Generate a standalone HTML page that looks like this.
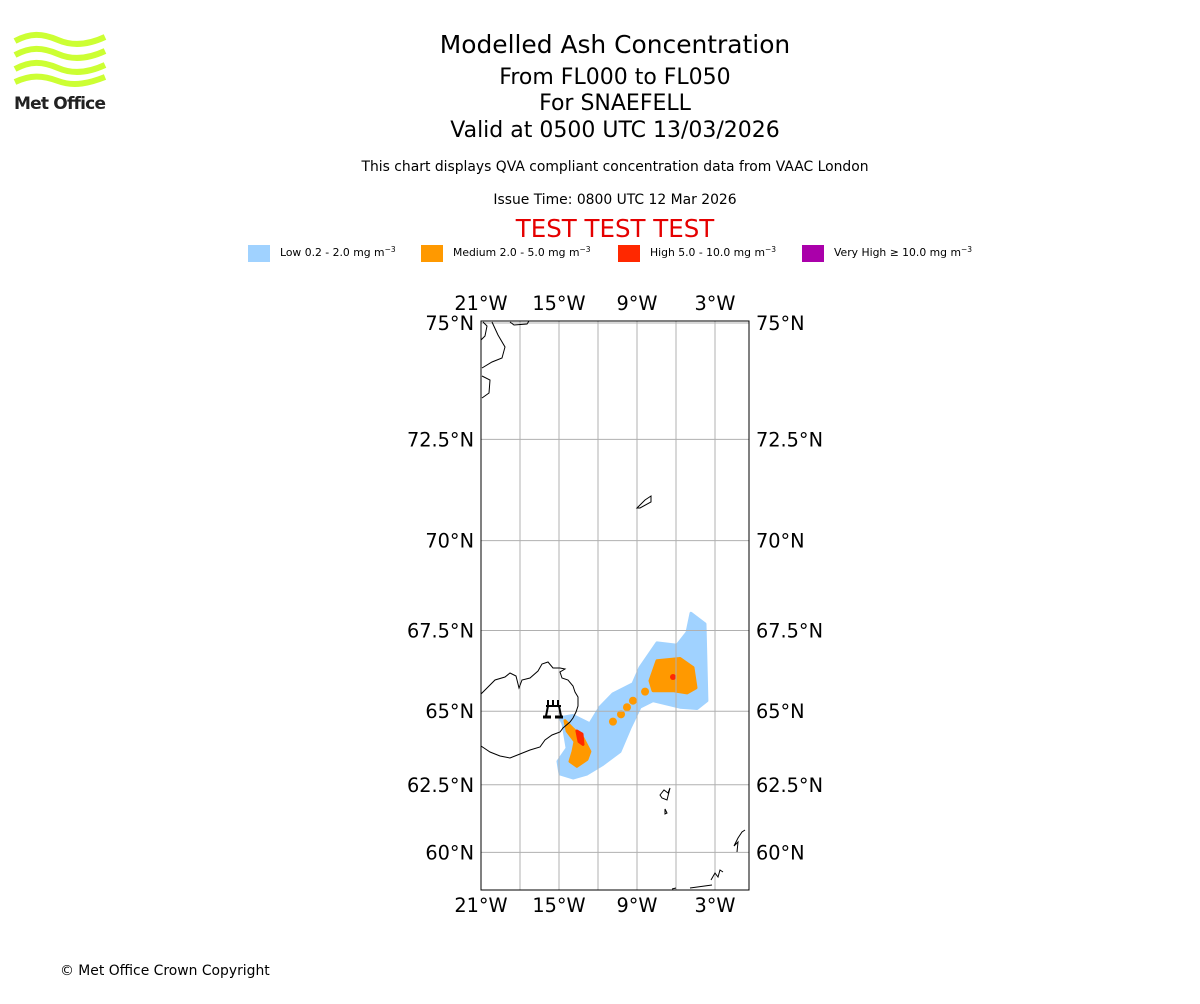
<!DOCTYPE html>
<html><head><meta charset="utf-8"><style>
body{margin:0;background:#fff;width:1200px;height:1000px;overflow:hidden;font-family:"DejaVu Sans","Liberation Sans",sans-serif}
</style></head><body>
<svg id="chart" width="1200" height="1000" xmlns="http://www.w3.org/2000/svg" style="font-family:'DejaVu Sans','Liberation Sans',sans-serif">
<g>
<g fill="none" stroke="#ccff33" stroke-width="6" stroke-linecap="butt">
<path d="M15 41 C30 33 42 33 58 40 S90 44 105 37"/>
<path d="M15 55 C30 47 42 47 58 54 S90 58 105 51"/>
<path d="M15 69 C30 61 42 61 58 68 S90 72 105 65"/>
<path d="M15 82 C30 75 42 75 58 81 S90 83 105 77"/>
</g>
<text x="14" y="109" font-size="17" font-weight="bold" fill="#222" letter-spacing="-0.8">Met Office</text>
</g>
<g text-anchor="middle" fill="#000">
<text x="615" y="53" font-size="24.9">Modelled Ash Concentration</text>
<text x="615" y="84" font-size="22">From FL000 to FL050</text>
<text x="615" y="110" font-size="22">For SNAEFELL</text>
<text x="615" y="137" font-size="22">Valid at 0500 UTC 13/03/2026</text>
<text x="615" y="171" font-size="13.9">This chart displays QVA compliant concentration data from VAAC London</text>
<text x="615" y="204" font-size="13.9">Issue Time: 0800 UTC 12 Mar 2026</text>
<text x="615" y="237" font-size="24.5" fill="#e50000">TEST TEST TEST</text>
</g>
<g font-size="10.8">
<rect x="248" y="245" width="22" height="17" fill="#a0d2ff"/>
<text x="280" y="256">Low 0.2 - 2.0 mg m<tspan dy="-4" font-size="7.5">−3</tspan></text>
<rect x="421" y="245" width="22" height="17" fill="#ff9900"/>
<text x="453" y="256">Medium 2.0 - 5.0 mg m<tspan dy="-4" font-size="7.5">−3</tspan></text>
<rect x="618" y="245" width="22" height="17" fill="#ff2800"/>
<text x="650" y="256">High 5.0 - 10.0 mg m<tspan dy="-4" font-size="7.5">−3</tspan></text>
<rect x="802" y="245" width="22" height="17" fill="#aa00aa"/>
<text x="834" y="256">Very High  ≥  10.0 mg m<tspan dy="-4" font-size="7.5">−3</tspan></text>
</g>
<defs><clipPath id="mapclip"><rect x="481" y="321" width="268" height="569"/></clipPath></defs>
<g id="plume" clip-path="url(#mapclip)"></g>
<g id="grid"></g>
<g clip-path="url(#mapclip)" fill="none" stroke="#000" stroke-width="1">
<path d="M481 694 L483 692 490 685 495 680 505 677 510 673 516 676 519 688 522 680 530 678 538 671 542 664 548 662 553 668 560 668 565 669 560 672 562 678 568 680 573 686 575 692 578 697 578 706 576 712 573 718 570 722 563 728 560 732 552 735 545 740 540 747 530 750 520 754 510 758 500 756 490 752 484 748 481 746"/>
<path d="M481 340 L485 336 487 326 483 322 M492 322 L498 335 505 347 502 358 492 362 482 368 M482 376 L490 380 489 393 482 398 M510 322 L514 325 527 324 529 321"/>
<path d="M637 508 L645 500 651 496 651 502 640 508Z"/>
<path d="M660 795 L664 790 668 793 670 788 667 800 662 798Z M665 809 L667 813 665 814Z"/>
<path d="M737 852 L738 842 734 846 738 838 742 832 745 830 M711 880 L715 873 718 877 720 870 723 872 M690 888 L712 885 M672 889 L676 888"/>
</g>
<g stroke="#000" stroke-width="2" fill="none">
<path d="M548 700 V706 M553 700 V706 M558 700 V706 M546 706 H561 M548 706 L546 716 M559 706 L561 716"/>
<path d="M543 717 H551 M555 717 H563" stroke-width="3"/>
</g>
<rect x="481" y="321" width="268" height="569" fill="none" stroke="#000" stroke-width="1"/>
<g id="labels" font-size="19.3" fill="#000"></g>
<text x="60" y="975" font-size="13.9">© Met Office Crown Copyright</text>
</svg>
<script>
const lonTicks = [-21, -15, -9, -3];
const lonGrid = [-21, -18, -15, -12, -9, -6, -3];
const latTicks = [75, 72.5, 70, 67.5, 65, 62.5, 60];
const latTickLabels = ["75°N", "72.5°N", "70°N", "67.5°N", "65°N", "62.5°N", "60°N"];
const lonTickLabels = ["21°W", "15°W", "9°W", "3°W"];
const lowLon = [-4.85,-3.77,-3.62,-4.38,-5.69,-7.77,-8.77,-9.54,-10.31,-11.62,-12.85,-13.92,-14.92,-15.08,-14.38,-14.69,-14.92,-13.92,-12.62,-11.85,-10.85,-9.31,-8.77,-7.46,-5.92,-5.15];
const lowLat = [68.0,67.69,65.34,65.09,65.13,65.34,65.13,64.45,63.66,63.22,62.88,62.74,62.88,63.32,63.77,64.59,64.79,64.86,64.59,65.13,65.56,65.88,66.38,67.13,67.06,67.44];
const medNorthLon = [-7.46,-5.69,-4.69,-4.46,-5.15,-6.23,-7.77,-8.0];
const medNorthLat = [66.59,66.66,66.38,65.75,65.59,65.66,65.66,65.97];
const medSouthLon = [-14.54,-13.92,-13.15,-12.62,-12.85,-13.62,-14.15,-13.92,-13.77,-14.38];
const medSouthLat = [64.69,64.42,64.11,63.66,63.39,63.15,63.32,63.66,64.0,64.35];
const highSouthLon = [-13.62,-13.23,-13.15,-13.46];
const highSouthLat = [64.35,64.25,63.9,64.0];
const highNorthLon = [-6.23];
const highNorthLat = [66.09];
const medBlobLon = [-10.85,-10.23,-9.77,-9.31,-8.38];
const medBlobLat = [64.66,64.9,65.13,65.34,65.63];

const NS = "http://www.w3.org/2000/svg";
function merc(lat){return Math.log(Math.tan(Math.PI/4 + lat*Math.PI/360));}
function xOf(lon){return 481 + (lon + 21) * 13;}
function yOf(lat){return 323 + (merc(75) - merc(lat)) * 745;}
function mk(tag, attrs, parent){const e=document.createElementNS(NS,tag);for(const k in attrs)e.setAttribute(k,attrs[k]);parent.appendChild(e);return e;}
const plume=document.getElementById('plume');
function poly(lons,lats,fill,name){
  const pts=lons.map((l,i)=>xOf(l).toFixed(1)+','+yOf(lats[i]).toFixed(1)).join(' ');
  const p=mk('polygon',{points:pts,fill:fill,stroke:fill,'stroke-width':3,'stroke-linejoin':'round'},plume);
  
  
}
poly(lowLon,lowLat,'#a0d2ff','low-ash-area');
poly(medNorthLon,medNorthLat,'#ff9900','medium-ash-north');
poly(medSouthLon,medSouthLat,'#ff9900','medium-ash-south');
medBlobLon.forEach((l,i)=>{
  const c=mk('circle',{cx:xOf(l),cy:yOf(medBlobLat[i]),r:4,fill:'#ff9900'},plume);
  
  
});
poly(highSouthLon,highSouthLat,'#ff2800','high-ash-south');
highNorthLon.forEach((l,i)=>{
  const c=mk('circle',{cx:xOf(l),cy:yOf(highNorthLat[i]),r:3,fill:'#ff2800'},plume);
  
  
});
const grid=document.getElementById('grid');
lonGrid.forEach(l=>{
  const g=mk('line',{x1:xOf(l),x2:xOf(l),y1:321,y2:890,stroke:'#b0b0b0','stroke-width':1},grid);
  
  
});
latTicks.forEach(l=>{
  const g=mk('line',{x1:481,x2:749,y1:yOf(l),y2:yOf(l),stroke:'#b0b0b0','stroke-width':1},grid);
  
  
});
const labels=document.getElementById('labels');
latTicks.forEach((l,i)=>{
  const y=yOf(l)+7;
  const a=mk('text',{x:474,y:y,'text-anchor':'end'},labels);a.textContent=latTickLabels[i];
  
  
  const b=mk('text',{x:756,y:y,'text-anchor':'start'},labels);b.textContent=latTickLabels[i];
  
  
});
lonTicks.forEach((l,i)=>{
  const a=mk('text',{x:xOf(l),y:310,'text-anchor':'middle'},labels);a.textContent=lonTickLabels[i];
  
  
  const b=mk('text',{x:xOf(l),y:912,'text-anchor':'middle'},labels);b.textContent=lonTickLabels[i];
  
  
});
</script>
</body></html>
